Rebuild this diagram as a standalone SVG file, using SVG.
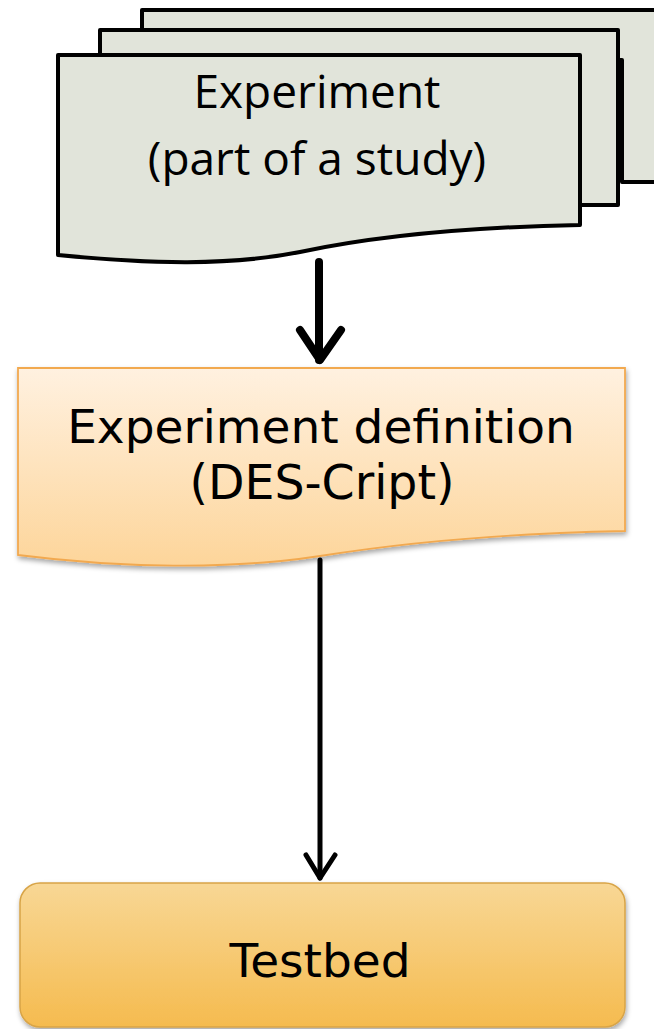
<svg xmlns="http://www.w3.org/2000/svg" width="654" height="1029" viewBox="0 0 654 1029">
<defs>
<style>
.doc{fill:#e1e4da;stroke:#000;stroke-width:4;stroke-linejoin:round}
.t1{font-family:"Open Sans","Liberation Sans",sans-serif;font-size:46px;fill:#000;text-anchor:middle}
.t2{font-family:"DejaVu Sans",sans-serif;font-size:47px;fill:#000;text-anchor:middle}
.t3{font-family:"DejaVu Sans",sans-serif;font-size:47px;fill:#000;text-anchor:middle}
.conn{fill:none;stroke:#000;stroke-linecap:round;stroke-linejoin:round}
</style>
<linearGradient id="gDef" x1="0" y1="0" x2="0" y2="1">
<stop offset="0" stop-color="#fff1e0"/>
<stop offset="1" stop-color="#fdd59a"/>
</linearGradient>
<linearGradient id="gTest" x1="0" y1="0" x2="0" y2="1">
<stop offset="0" stop-color="#f8d795"/>
<stop offset="1" stop-color="#f5bb4f"/>
</linearGradient>
<filter id="sh" x="-5%" y="-5%" width="110%" height="120%">
<feDropShadow dx="1" dy="3" stdDeviation="2.5" flood-color="#000" flood-opacity="0.35"/>
</filter>
</defs>
<rect width="654" height="1029" fill="#fff"/>
<g id="experiment">
<path class="doc" d="M142,10 H660 V182 H622 V60 H142 Z"/>
<path class="doc" d="M100,30 H618 V205 H580 V80 H100 Z"/>
<path class="doc" d="M58,55 H580 V225 C470,227 380,235 300,252 C230,266 150,264 58,255 Z"/>
<text class="t1" x="317" y="108">Experiment</text>
<text class="t1" x="317" y="175">(part of a study)</text>
</g>
<g id="definition">
<path d="M18,368 H625 V531 C520,533 420,540 320,556 C230,570 120,568 18,555 Z" fill="url(#gDef)" stroke="#f2a950" stroke-width="1.8" filter="url(#sh)"/>
<text class="t2" x="321" y="443">Experiment definition</text>
<text class="t2" x="322" y="499" textLength="265" lengthAdjust="spacingAndGlyphs" style="font-size:48px">(DES-Cript)</text>
</g>
<g id="testbed">
<rect x="20" y="883" width="605" height="144" rx="20" fill="url(#gTest)" stroke="#d8a447" stroke-width="1.5" filter="url(#sh)"/>
<text class="t3" x="320" y="977">Testbed</text>
</g>
<g id="connectors">
<path class="conn" stroke-width="8" d="M319,262 V360"/>
<path class="conn" stroke-width="8" d="M300,330 L320,360 L341,330"/>
<path class="conn" stroke-width="5" d="M320,560 V878"/>
<path class="conn" stroke-width="5" d="M306,855 L320,878 L335,855"/>
</g>
</svg>
